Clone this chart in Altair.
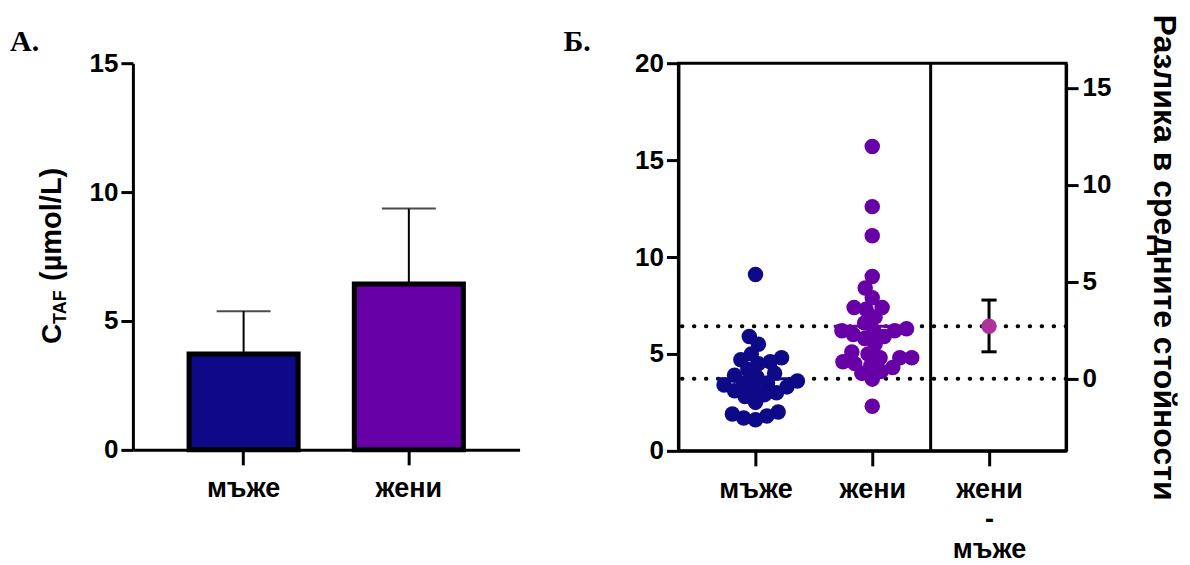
import altair as alt
import pandas as pd

# ---------------- data ----------------
groups = ["мъже", "жени"]
bar_means = [3.72, 6.43]
bar_sd = [1.66, 2.93]

men_values = [9.1, 5.9, 5.5, 5.0, 4.8, 4.7, 4.6, 4.5, 4.2, 4.0, 3.9, 3.8, 3.6, 3.5,
              3.5, 3.4, 3.3, 3.2, 3.1, 3.0, 2.9, 2.8, 2.5, 2.0, 1.9, 1.8, 1.7, 1.6]
women_values = [15.7, 12.6, 11.1, 9.0, 8.4, 7.9, 7.4, 7.3, 7.4, 6.9, 6.6, 6.3, 6.2, 6.2,
                5.8, 6.0, 6.2, 5.5, 5.9, 5.1, 5.0, 4.8, 4.8, 4.8, 4.5, 4.4, 4.3, 4.6,
                4.1, 4.0, 3.7, 2.3]

diff_labels = ["жени", "-", "мъже"]
diff_mean = 2.71
diff_ci = [1.39, 4.06]

bar_colors = ["#0e0a87", "#6700a6"]
point_colors = ["#0c0c7e", "#7212b0"]
diff_color = "#ad339c"

FONT = "Liberation Sans"
SERIF = "Liberation Serif"

# ---------------- panel A ----------------
dfA = pd.DataFrame({
    "group": groups,
    "mean": bar_means,
    "top": [m + s for m, s in zip(bar_means, bar_sd)],
})

axis_common = dict(domainColor="black", domainWidth=3, tickColor="black", tickWidth=3,
                   labelFont=FONT, labelFontWeight="bold", labelColor="black", grid=False)

xA = alt.X("group:N", sort=groups,
           scale=alt.Scale(paddingInner=0.34, paddingOuter=0.34),
           axis=alt.Axis(title=None, labelAngle=0, tickSize=15, labelFontSize=27,
                         labelPadding=11, **axis_common))
yA = alt.Y("mean:Q", scale=alt.Scale(domain=[0, 15], nice=False),
           axis=alt.Axis(title=None, values=[0, 5, 10, 15], tickSize=12, labelFontSize=26,
                         labelPadding=3, **axis_common))

errA = alt.Chart(dfA).mark_rule(color="black", strokeWidth=2).encode(
    x=xA, y=yA, y2="top:Q")
capA = alt.Chart(dfA).mark_tick(color="black", thickness=2, size=54).encode(
    x=xA, y=alt.Y("top:Q", scale=alt.Scale(domain=[0, 15], nice=False)))
barsA = alt.Chart(dfA).mark_bar(stroke="black", strokeWidth=5).encode(
    x=xA, y=yA,
    color=alt.Color("group:N", scale=alt.Scale(domain=groups, range=bar_colors), legend=None))

txt_style = dict(font=FONT, fontWeight="bold", color="black", angle=270,
                 align="left", baseline="alphabetic")
titleC = alt.Chart(pd.DataFrame({"t": ["C"]})).mark_text(fontSize=28, **txt_style).encode(
    text="t:N", x=alt.value(-72), y=alt.value(281))
titleSub = alt.Chart(pd.DataFrame({"t": ["TAF"]})).mark_text(fontSize=18, **txt_style).encode(
    text="t:N", x=alt.value(-67), y=alt.value(261))
titleUnit = alt.Chart(pd.DataFrame({"t": ["(µmol/L)"]})).mark_text(fontSize=29, **txt_style).encode(
    text="t:N", x=alt.value(-72), y=alt.value(218))
letterA = alt.Chart(pd.DataFrame({"t": ["A."]})).mark_text(
    font=SERIF, fontWeight="bold", fontSize=30, color="black", align="left",
    baseline="alphabetic").encode(text="t:N", x=alt.value(-123), y=alt.value(-12))

panelA = alt.layer(errA, capA, barsA, titleC, titleSub, titleUnit, letterA).properties(
    width=387, height=387, view=alt.ViewBackground(stroke="transparent", strokeWidth=0))

# ---------------- panel B ----------------
X_PX = 117.0   # px per category unit
Y_PX = 19.4    # px per value unit
DOT = 12.0     # minimum centre distance of swarm dots (px)


def swarm(vals):
    order = sorted(range(len(vals)), key=lambda i: vals[i])
    placed = []
    offs = [0.0] * len(vals)
    for i in order:
        y = vals[i] * Y_PX
        cands = [0.0]
        for px, py in placed:
            dy = abs(y - py)
            if dy < DOT:
                dx = (DOT ** 2 - dy ** 2) ** 0.5
                cands += [px + dx, px - dx]
        cands.sort(key=lambda c: (abs(c), c))
        for c in cands:
            if all((c - px) ** 2 + (y - py) ** 2 >= DOT ** 2 - 1e-6 for px, py in placed):
                offs[i] = c / X_PX
                placed.append((c, y))
                break
    return offs


rows = []
for gi, vals in enumerate([men_values, women_values]):
    for v, o in zip(vals, swarm(vals)):
        rows.append({"group": groups[gi], "gx": gi + o, "value": v})
dfP = pd.DataFrame(rows)

dfM = pd.DataFrame({"group": groups, "gx": [0, 1], "value": bar_means})
dfM["x1"] = dfM["gx"] - 0.33
dfM["x2"] = dfM["gx"] + 0.33

n_cat = len(groups) + 1
x_domain = [-0.66, n_cat - 1 + 0.66]
label_list = [repr(g) for g in groups] + ["[" + ", ".join(repr(s) for s in diff_labels) + "]"]
label_expr = "datum.value == 0 ? %s : (datum.value == 1 ? %s : %s)" % tuple(label_list)

xB_axis = alt.Axis(title=None, values=list(range(n_cat)), labelExpr=label_expr, tickSize=15,
                   labelFontSize=27, labelPadding=11, labelLineHeight=30, labelOverlap=False,
                   labelFlush=False, **axis_common)
xB_scale = alt.Scale(domain=x_domain, nice=False, zero=False)
yB_scale = alt.Scale(domain=[0, 20], nice=False)
yB_axis = alt.Axis(title=None, values=[0, 5, 10, 15, 20], tickSize=12, labelFontSize=26,
                   labelPadding=3, **axis_common)


def XB(field):
    return alt.X(field, scale=xB_scale, axis=xB_axis)


def YB(field):
    return alt.Y(field, scale=yB_scale, axis=yB_axis)


dotted = alt.Chart(dfM).mark_rule(color="black", strokeWidth=4, strokeDash=[0.5, 11.5],
                                  strokeCap="round").encode(y=YB("value:Q"))
points = alt.Chart(dfP).mark_circle(size=240, opacity=1).encode(
    x=XB("gx:Q"), y=YB("value:Q"),
    color=alt.Color("group:N", scale=alt.Scale(domain=groups, range=point_colors), legend=None))
meanlines = alt.Chart(dfM).mark_rule(strokeWidth=3).encode(
    x=XB("x1:Q"), x2="x2:Q", y=YB("value:Q"),
    color=alt.Color("group:N", scale=alt.Scale(domain=groups, range=point_colors), legend=None))
sep = alt.Chart(pd.DataFrame({"s": [len(groups) - 0.5]})).mark_rule(
    color="black", strokeWidth=3).encode(x=XB("s:Q"))
letterB = alt.Chart(pd.DataFrame({"t": ["Б."]})).mark_text(
    font=SERIF, fontWeight="bold", fontSize=30, color="black", align="left",
    baseline="alphabetic").encode(text="t:N", x=alt.value(-115), y=alt.value(-12))

left_layers = alt.layer(dotted, meanlines, points, sep, letterB)

# difference (right axis, zero at the men's mean)
r_scale = alt.Scale(domain=[0 - bar_means[0], 20 - bar_means[0]], nice=False, zero=False)
r_axis = alt.Axis(orient="right", title="Разлика в средните стойности", values=[0, 5, 10, 15],
                  tickSize=12, labelFontSize=26, labelPadding=4, titleFont=FONT,
                  titleFontWeight="bold", titleFontSize=32, titleColor="black", titlePadding=36,
                  **axis_common)
dfD = pd.DataFrame({"gx": [n_cat - 1], "d": [diff_mean], "lo": [diff_ci[0]], "hi": [diff_ci[1]]})
dfCap = pd.DataFrame({"x1": [n_cat - 1 - 0.065] * 2, "x2": [n_cat - 1 + 0.065] * 2,
                      "d": diff_ci})

d_err = alt.Chart(dfD).mark_rule(color="black", strokeWidth=3).encode(
    x=XB("gx:Q"), y=alt.Y("lo:Q", scale=r_scale, axis=r_axis), y2="hi:Q")
d_cap = alt.Chart(dfCap).mark_rule(color="black", strokeWidth=3).encode(
    x=XB("x1:Q"), x2="x2:Q", y=alt.Y("d:Q", scale=r_scale, axis=r_axis))
d_pt = alt.Chart(dfD).mark_circle(size=240, opacity=1, color=diff_color).encode(
    x=XB("gx:Q"), y=alt.Y("d:Q", scale=r_scale, axis=r_axis))
right_layers = alt.layer(d_err, d_cap, d_pt)

panelB = alt.layer(left_layers, right_layers).resolve_scale(y="independent").properties(
    width=388, height=388, view=alt.ViewBackground(stroke="black", strokeWidth=3))

chart = alt.hconcat(panelA, panelB, spacing=42).properties(
    padding={"left": 2, "top": 4, "right": 0, "bottom": 0}
).configure_view(strokeWidth=0).configure(background="white")

chart.save("out.html", embed_options={"renderer": "svg", "actions": False})
